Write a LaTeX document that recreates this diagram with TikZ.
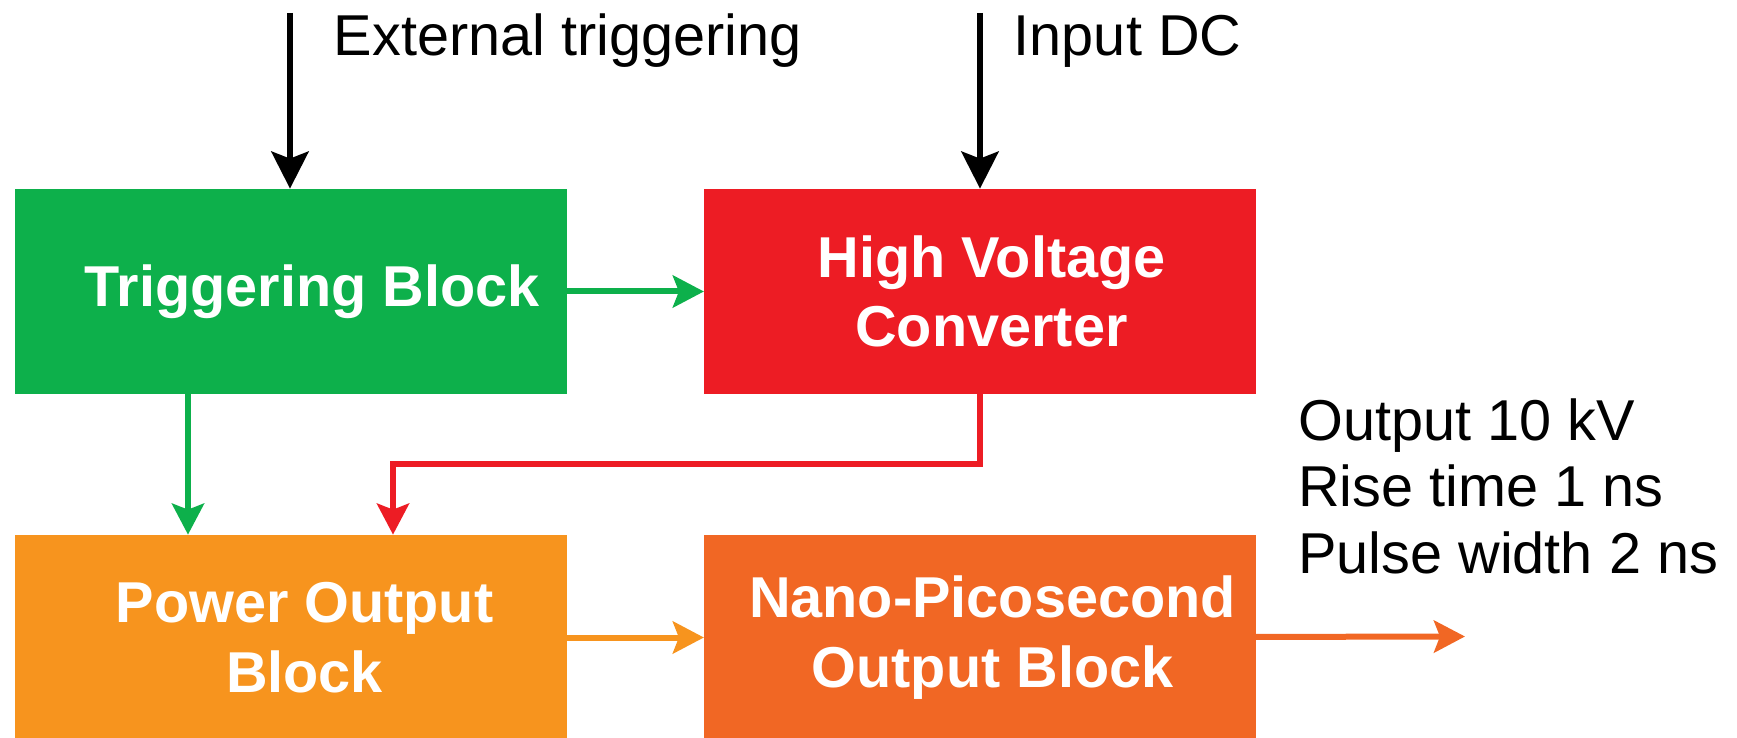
\documentclass[tikz,border=0pt]{standalone}
\usepackage{fontspec}
\setmainfont{Liberation Sans}
\usetikzlibrary{arrows.meta,positioning}

\definecolor{trigcol}{RGB}{13,176,75}
\definecolor{hvcol}{RGB}{237,28,36}
\definecolor{powcol}{RGB}{247,148,30}
\definecolor{nanocol}{RGB}{241,103,36}
\newcommand\ind[1]{\hspace*{#1}}

\begin{document}
\begin{tikzpicture}[
  blk/.style={minimum width=11.03cm,minimum height=4.1cm,inner sep=0pt,
    text=white,align=center,font=\fontsize{32.8}{39.6}\selectfont\bfseries},
  lbl/.style={inner sep=0pt,align=left,font=\fontsize{32.8}{37.8}\selectfont},
  tip/.style={-{Stealth[length=0.62cm,width=0.64cm,inset=0.12cm]},line width=0.12cm},
  bigtip/.style={-{Stealth[length=0.74cm,width=0.74cm,inset=0.14cm]},line width=0.13cm}]
\useasboundingbox (0,0) rectangle (34.74,14.74);
\node[blk,fill=trigcol] (trig) at (5.82,8.91) {\ind{0.84cm}Triggering Block};
\node[blk,fill=hvcol] (hv) at (19.6,8.91) {\ind{0.46cm}High Voltage\\\ind{0.46cm}Converter};
\node[blk,fill=powcol] (pow) at (5.82,1.99) {\ind{0.54cm}Power Output\\\ind{0.54cm}Block};
\node[blk,fill=nanocol] (nano) at (19.6,1.99) {\ind{0.5cm}Nano-Picosecond\\\ind{0.5cm}Output Block};
\coordinate (ext) at (5.8,14.48);
\coordinate (dcin) at (19.6,14.48);
\coordinate (out) at (29.3,2.01);
\node[lbl,anchor=base west] (extlbl) at (6.67,13.62) {External triggering};
\node[lbl,anchor=base west] (dclbl) at (20.27,13.62) {Input DC};
\node[lbl,anchor=base west] (outlbl) at (25.96,3.28) {Output 10 kV\\Rise time 1 ns\\Pulse width 2 ns};
\draw[bigtip] (ext) -- (ext |- trig.north);
\draw[bigtip] (dcin) -- (hv.north);
\draw[tip,trigcol] (trig) -- (hv);
\draw[tip,trigcol] ([xshift=-2.06cm]trig.south) -- ([xshift=-2.06cm]pow.north);
\draw[tip,hvcol] (hv.south) -- ++(0,-1.4) -| ([xshift=2.04cm]pow.north);
\draw[tip,powcol] (pow) -- (nano);
\draw[tip,nanocol] (nano) -- (out);
\end{tikzpicture}
\end{document}
